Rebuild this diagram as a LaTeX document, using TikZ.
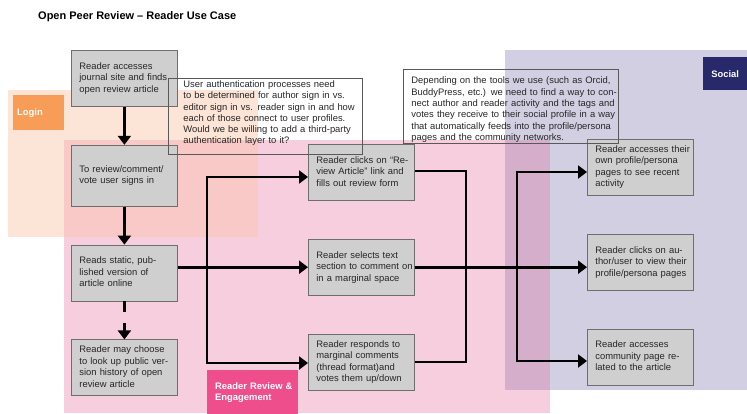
\documentclass[tikz,border=0pt]{standalone}
\usepackage{fontspec}
\setmainfont{Liberation Sans}
\usetikzlibrary{positioning,arrows.meta}

\definecolor{boxgray}{HTML}{CFCFCF}
\definecolor{boxline}{HTML}{6E6E6E}
\definecolor{loginbg}{HTML}{FCE4D6}
\definecolor{loginfg}{HTML}{F79D58}
\definecolor{reviewbg}{HTML}{F6CEDD}
\definecolor{reviewfg}{HTML}{EE4E8C}
\definecolor{socialbg}{HTML}{D3CFE2}
\definecolor{socialfg}{HTML}{27296B}
\definecolor{loginreview}{HTML}{F8C9C6}
\definecolor{reviewsocial}{HTML}{D4AECB}

% lines kept as typed, no rebreaking
\newcommand{\boxlines}[2][c]{\begin{tabular}[#1]{@{}l@{}}#2\end{tabular}}

\tikzstyle{action} = [
draw=boxline,
line width=0.8pt,
fill=boxgray,
text=black!85,
minimum width=106pt,
minimum height=56pt,
text width=90pt,
inner xsep=8pt,
align=left
]
\tikzstyle{comment} = [
draw=black!65,
line width=0.8pt,
text=black!85,
inner ysep=0pt,
align=left,
anchor=north west,
font=\fontsize{9.4}{11.3}\selectfont
]
\tikzstyle{tag} = [
text=white,
font=\fontsize{9.4}{11}\selectfont\bfseries,
anchor=north west,
inner ysep=0pt
]
\tikzstyle{flow} = [
line width=2.8pt,
-{Triangle[length=9pt,width=13pt]}
]
\tikzstyle{bus} = [
line width=2.8pt
]

\begin{document}
\begin{tikzpicture}[
	x=1pt,
	y=-1pt,
	node distance=38pt,
	font=\fontsize{9.4}{11.5}\selectfont
	]
	\useasboundingbox (0,0) rectangle (747,413);
	
	% coloured areas
	\fill[loginbg] (8,90) rectangle (258,237);
	\fill[socialbg] (505,50) rectangle (747,390);
	\fill[reviewbg] (64,140) rectangle (550,413);
	\fill[loginreview] (64,140) rectangle (258,237);
	\fill[reviewsocial] (505,140) rectangle (550,390);
	
	\node[anchor=west,inner sep=0pt,font=\fontsize{11}{13}\selectfont\bfseries] (title) at (38,17) {Open Peer Review – Reader Use Case};
	
	\node[tag,fill=loginfg,minimum width=51pt,minimum height=35pt,text width=43pt,inner xsep=4pt,align=left] (login) at (13,95) {Login};
	\node[tag,fill=socialfg,minimum width=44pt,minimum height=33pt,text width=36pt,inner xsep=4pt,align=center] (social) at (703,57) {Social};
	\node[tag,fill=reviewfg,minimum width=91pt,minimum height=46pt,text width=75pt,inner xsep=8pt,align=left] (engage) at (207,370) {\boxlines{Reader Review \&\\Engagement}};
	
	% left column
	\node[action,anchor=north west] (access) at (71,50) {\boxlines{Reader accesses\\journal site and finds\\open review article}};
	\node[action,minimum height=61pt,below=of access] (signin) {\boxlines{To review/comment/\\vote user signs in}};
	\node[action,below=of signin] (read) {\boxlines{Reads static, pub-\\lished version of\\article online}};
	\node[action,below=of read] (history) {\boxlines{Reader may choose\\to look up public ver-\\sion history of open\\review article}};
	
	% middle column
	\node[action,anchor=north west] (review) at (308,144) {\boxlines{Reader clicks on “Re-\\view Article” link and\\fills out review form}};
	\node[action,below=of review] (select) {\boxlines{Reader selects text\\section to comment on\\in a marginal space}};
	\node[action,below=of select] (respond) {\boxlines{Reader responds to\\marginal comments\\(thread format)and\\votes them up/down}};
	
	% right column
	\node[action,anchor=north west] (profile) at (587,139) {\boxlines{Reader accesses their\\own profile/persona\\pages to see recent\\activity}};
	\node[action,below=of profile] (author) {\boxlines{Reader clicks on au-\\thor/user to view their\\profile/persona pages}};
	\node[action,below=of author] (community) {\boxlines{Reader accesses\\community page re-\\lated to the article}};
	
	\draw[flow] (access) -- (signin);
	\draw[flow] (signin) -- (read);
	\draw[flow,dash pattern=on 11pt off 11pt] (read) -- (history);
	\draw[flow] (read.east |- select.west) -- (select.west);
	
	\coordinate (fork) at (207,177);
	\coordinate (forkend) at (207,363);
	\draw[flow] (forkend) -- (fork) -- (fork -| review.west);
	\draw[flow] (fork) -- (forkend) -- (forkend -| respond.west);
	
	\coordinate (merge) at (466,171);
	\coordinate (mergeend) at (466,362);
	\draw[bus] (review.east |- merge) -- (merge) -- (mergeend) -- (respond.east |- mergeend);
	
	\coordinate (spread) at (517,172);
	\coordinate (spreadend) at (517,361);
	\draw[flow] (spreadend) -- (spread) -- (spread -| profile.west);
	\draw[flow] (spread) -- (spreadend) -- (spreadend -| community.west);
	\draw[flow] (select) -- (select -| author.west);
	
	% notes
	\node[comment,text width=164pt,inner xsep=15pt,text height=9pt,text depth=67pt] (authnote) at (168,78) {\boxlines[t]{User authentication processes need\\to be determined for author sign in vs.\\editor sign in vs. reader sign in and how\\each of those connect to user profiles.\\Would we be willing to add a third-party\\authentication layer to it?}};
	\node[comment,text width=199pt,inner xsep=8pt,text height=14.5pt,text depth=59.5pt] (toolnote) at (403,69) {\boxlines[t]{Depending on the tools we use (such as Orcid,\\BuddyPress, etc.) we need to find a way to con-\\nect author and reader activity and the tags and\\votes they receive to their social profile in a way\\that automatically feeds into the profile/persona\\pages and the community networks.}};
\end{tikzpicture}
\end{document}
